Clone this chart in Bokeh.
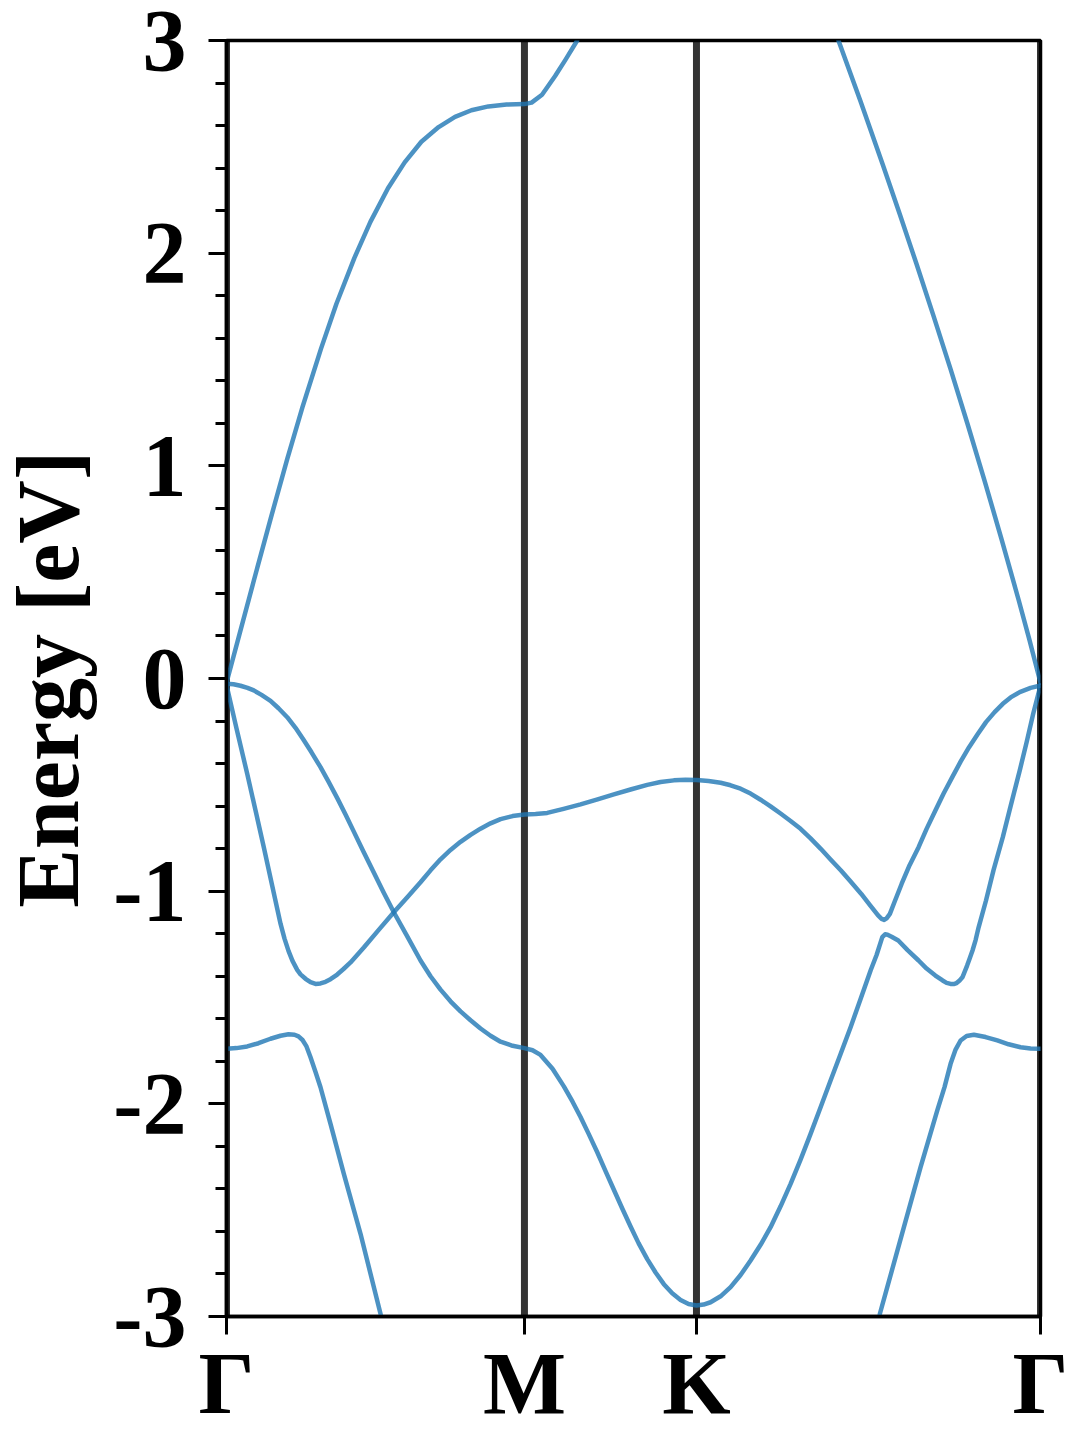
from bokeh.plotting import figure
from bokeh.models import FixedTicker, Span
from bokeh.layouts import row
from bokeh.core.properties import value
from bokeh.embed import file_html
from bokeh.resources import INLINE

# high-symmetry points along the path (Gamma-M = 1 unit)
TICK_POS = [0.0, 1.0, 1.5774, 2.7321]
TICK_LABELS = ["Γ", "M", "K", "Γ"]
Y_MAJOR = [-3, -2, -1, 0, 1, 2, 3]
Y_LABELS = ["-3", "-2", "-1", "0", "1", "2", "3"]
Y_MINOR = [-3.0, -2.8, -2.6, -2.4, -2.2, -2.0, -1.8, -1.6, -1.4, -1.2, -1.0,
           -0.8, -0.6, -0.4, -0.2, 0.0, 0.2, 0.4, 0.6, 0.8, 1.0, 1.2, 1.4,
           1.6, 1.8, 2.0, 2.2, 2.4, 2.6, 2.8, 3.0]
Y_TITLE = "Energy [eV]"

# upper band, Gamma -> M -> (leaves top)
c1_k = [0.0, 0.047, 0.092, 0.148, 0.204, 0.255, 0.317, 0.369, 0.429, 0.483,
        0.542, 0.598, 0.654, 0.712, 0.767, 0.822, 0.879, 0.940, 1.0, 1.024,
        1.059, 1.103, 1.138, 1.177]
c1_e = [-0.02, 0.226, 0.462, 0.751, 1.033, 1.276, 1.550, 1.762, 1.977, 2.147,
        2.305, 2.427, 2.524, 2.593, 2.641, 2.672, 2.690, 2.699, 2.701, 2.708,
        2.745, 2.833, 2.91, 3.0]

# upper band, (enters top) K -> Gamma
c2_k = [2.054, 2.128, 2.202, 2.259, 2.316, 2.373, 2.430, 2.487, 2.544, 2.601,
        2.659, 2.695, 2.7321]
c2_e = [3.0, 2.714, 2.419, 2.187, 1.949, 1.705, 1.456, 1.198, 0.932, 0.657,
        0.368, 0.182, -0.02]

# valence band 1
v1_k = [0.0, 0.0336, 0.0695, 0.0973, 0.1252, 0.1534, 0.1813, 0.1947, 0.2081,
        0.2215, 0.2373, 0.2484, 0.2652, 0.2820, 0.2988, 0.3155, 0.3323, 0.3491,
        0.3716, 0.3927, 0.4163, 0.4609, 0.5102, 0.5616, 0.6076, 0.6512, 0.6848,
        0.7184, 0.7519, 0.7855, 0.8191, 0.8526, 0.8862, 0.9198, 0.9601, 1.0,
        1.0373, 1.0765, 1.1313, 1.1883, 1.2454, 1.3001, 1.3562, 1.4122, 1.4569,
        1.5015, 1.5408, 1.5774, 1.6180, 1.6583, 1.6919, 1.7254, 1.7590, 1.7926,
        1.8261, 1.8597, 1.8933, 1.9268, 1.9604, 1.9946, 2.0275, 2.0624, 2.0947,
        2.1306, 2.1584, 2.1870, 2.1987, 2.2075, 2.2155, 2.2266, 2.2424, 2.2662,
        2.2927, 2.3229, 2.3498, 2.3793, 2.4069, 2.4360, 2.4639, 2.4924, 2.5210,
        2.5492, 2.5780, 2.6056, 2.6318, 2.6623, 2.6989, 2.7321]
v1_e = [-0.03, -0.235, -0.448, -0.62, -0.793, -0.975, -1.153, -1.223, -1.281,
        -1.328, -1.370, -1.391, -1.412, -1.428, -1.436, -1.434, -1.426, -1.414,
        -1.392, -1.366, -1.335, -1.265, -1.183, -1.099, -1.027, -0.958, -0.902,
        -0.850, -0.806, -0.768, -0.735, -0.706, -0.681, -0.661, -0.647, -0.640,
        -0.637, -0.632, -0.613, -0.592, -0.568, -0.545, -0.522, -0.500, -0.487,
        -0.479, -0.476, -0.477, -0.482, -0.490, -0.502, -0.518, -0.541, -0.570,
        -0.601, -0.635, -0.670, -0.707, -0.752, -0.801, -0.851, -0.903, -0.955,
        -1.013, -1.063, -1.114, -1.130, -1.135, -1.128, -1.107, -1.05, -0.965,
        -0.878, -0.793, -0.707, -0.621, -0.541, -0.464, -0.391, -0.323, -0.262,
        -0.205, -0.158, -0.119, -0.089, -0.064, -0.044, -0.033]

# valence band 2
v2_k = [0.0, 0.0235, 0.0470, 0.0705, 0.0916, 0.1175, 0.1477, 0.1746, 0.2038,
        0.2316, 0.2585, 0.2853, 0.3155, 0.3424, 0.3726, 0.3995, 0.4273, 0.4599,
        0.4935, 0.5270, 0.5616, 0.6076, 0.6512, 0.6848, 0.7184, 0.7519, 0.7855,
        0.8191, 0.8526, 0.8862, 0.9198, 0.9601, 1.0, 1.0272, 1.0540, 1.0943,
        1.1323, 1.1615, 1.1883, 1.2152, 1.2444, 1.2722, 1.3001, 1.3283, 1.3562,
        1.3830, 1.4122, 1.4401, 1.4679, 1.4961, 1.5240, 1.5509, 1.5774, 1.6012,
        1.6247, 1.6583, 1.6919, 1.7254, 1.7590, 1.7926, 1.8261, 1.8597, 1.8933,
        1.9268, 1.9604, 1.9940, 2.0275, 2.0611, 2.0947, 2.1282, 2.1618, 2.1819,
        2.2011, 2.2105, 2.2189, 2.2323, 2.2548, 2.2860, 2.3229, 2.3498, 2.3793,
        2.4035, 2.4169, 2.4303, 2.4404, 2.4505, 2.4606, 2.4700, 2.4774, 2.4858,
        2.4941, 2.5039, 2.5143, 2.5244, 2.5492, 2.5747, 2.6056, 2.6318, 2.6623,
        2.6855, 2.7076, 2.7321]
v2_e = [-0.025, -0.027, -0.034, -0.044, -0.056, -0.077, -0.105, -0.140, -0.182,
        -0.232, -0.288, -0.347, -0.417, -0.485, -0.565, -0.640, -0.720, -0.815,
        -0.910, -1.005, -1.099, -1.215, -1.326, -1.40, -1.463, -1.518, -1.565,
        -1.607, -1.646, -1.680, -1.708, -1.727, -1.738, -1.748, -1.77, -1.835,
        -1.918, -1.990, -2.062, -2.140, -2.228, -2.316, -2.404, -2.492, -2.577,
        -2.655, -2.730, -2.793, -2.848, -2.891, -2.922, -2.941, -2.948, -2.944,
        -2.933, -2.905, -2.862, -2.805, -2.737, -2.663, -2.58, -2.482, -2.376,
        -2.262, -2.141, -2.016, -1.89, -1.766, -1.64, -1.507, -1.373, -1.30,
        -1.216, -1.203, -1.205, -1.214, -1.232, -1.277, -1.326, -1.364, -1.397,
        -1.42, -1.431, -1.436, -1.437, -1.432, -1.42, -1.405, -1.38, -1.35,
        -1.318, -1.279, -1.23, -1.17, -1.044, -0.90, -0.746, -0.60, -0.433,
        -0.30, -0.166, -0.033]

# lowest band, Gamma side (leaves bottom)
v3a_k = [0.0, 0.0336, 0.0695, 0.1074, 0.1477, 0.1813, 0.2081, 0.2283, 0.2417,
         0.2551, 0.2685, 0.2820, 0.2988, 0.3155, 0.3491, 0.3938, 0.4498, 0.5169,
         0.5220]
v3a_e = [-1.741, -1.738, -1.73, -1.715, -1.694, -1.680, -1.673, -1.675, -1.683,
         -1.700, -1.730, -1.781, -1.85, -1.922, -2.094, -2.329, -2.611, -2.987,
         -3.02]

# lowest band, (enters bottom) K-Gamma side
v3b_k = [2.1903, 2.1930, 2.2178, 2.2736, 2.3296, 2.3857, 2.4102, 2.4303, 2.4471,
         2.4639, 2.4841, 2.5086, 2.5479, 2.5871, 2.6251, 2.6653, 2.6989, 2.7321]
v3b_e = [-3.02, -2.987, -2.862, -2.58, -2.298, -2.031, -1.92, -1.812, -1.745,
         -1.702, -1.681, -1.675, -1.686, -1.702, -1.72, -1.734, -1.740, -1.741]

BAND_K = [c1_k, c2_k, v1_k, v2_k, v3a_k, v3b_k]
BAND_E = [c1_e, c2_e, v1_e, v2_e, v3a_e, v3b_e]

FONT = "Liberation Serif"
TITLE_W = 100
FIG_H = 1432

# --- narrow strip holding the rotated y-axis title ---
pt = figure(width=TITLE_W, height=FIG_H, x_range=(0, TITLE_W),
            y_range=(FIG_H, 0), output_backend="svg", toolbar_location=None,
            x_axis_location=None, y_axis_location=None,
            min_border=0)
pt.outline_line_color = None
pt.xgrid.grid_line_color = None
pt.ygrid.grid_line_color = None
pt.text(x=[48], y=[718], text=[Y_TITLE], angle=1.5707963,
        text_align="center", text_baseline="alphabetic",
        text_font=value(FONT), text_font_style="bold",
        text_font_size="88px", text_color="black")

# --- main band-structure plot ---
p = figure(frame_width=814, frame_height=1276,
           x_range=(TICK_POS[0], TICK_POS[-1]), y_range=(-3, 3),
           output_backend="svg", toolbar_location=None,
           min_border_left=226 - TITLE_W, min_border_right=40,
           min_border_top=40, min_border_bottom=0)

p.background_fill_color = "white"
p.border_fill_color = "white"
p.outline_line_color = "black"
p.outline_line_width = 3.5
p.xgrid.grid_line_color = None
p.ygrid.grid_line_color = None

for xk in TICK_POS:
    p.add_layout(Span(location=xk, dimension="height", line_color="black",
                      line_alpha=0.8, line_width=7, level="underlay"))

for ks, es in zip(BAND_K, BAND_E):
    p.line(ks, es, line_color="#1f77b4", line_alpha=0.8, line_width=4.5,
           line_join="round", line_cap="round")

# x axis
p.xaxis.ticker = FixedTicker(ticks=TICK_POS)
p.xaxis.major_label_overrides = {k: lab for k, lab in zip(TICK_POS, TICK_LABELS)}
p.xaxis.minor_tick_line_color = None
p.xaxis.major_tick_in = 0
p.xaxis.major_tick_out = 18
p.xaxis.major_label_standoff = 0

# y axis
p.yaxis.ticker = FixedTicker(ticks=Y_MAJOR, minor_ticks=Y_MINOR)
p.yaxis.major_label_overrides = {k: lab for k, lab in zip(Y_MAJOR, Y_LABELS)}
p.yaxis.major_tick_in = 0
p.yaxis.major_tick_out = 18
p.yaxis.minor_tick_in = 0
p.yaxis.minor_tick_out = 11
p.yaxis.major_label_standoff = 22

for ax in (p.xaxis, p.yaxis):
    ax.axis_line_width = 3.5
    ax.axis_line_color = "black"
    ax.major_tick_line_width = 3
    ax.major_tick_line_color = "black"
    ax.minor_tick_line_width = 3
    ax.major_label_text_font = FONT
    ax.major_label_text_font_style = "bold"
    ax.major_label_text_font_size = "88px"
    ax.major_label_text_color = "black"

layout = row(pt, p, spacing=0)
open("out.html", "w").write(file_html(layout, INLINE))
